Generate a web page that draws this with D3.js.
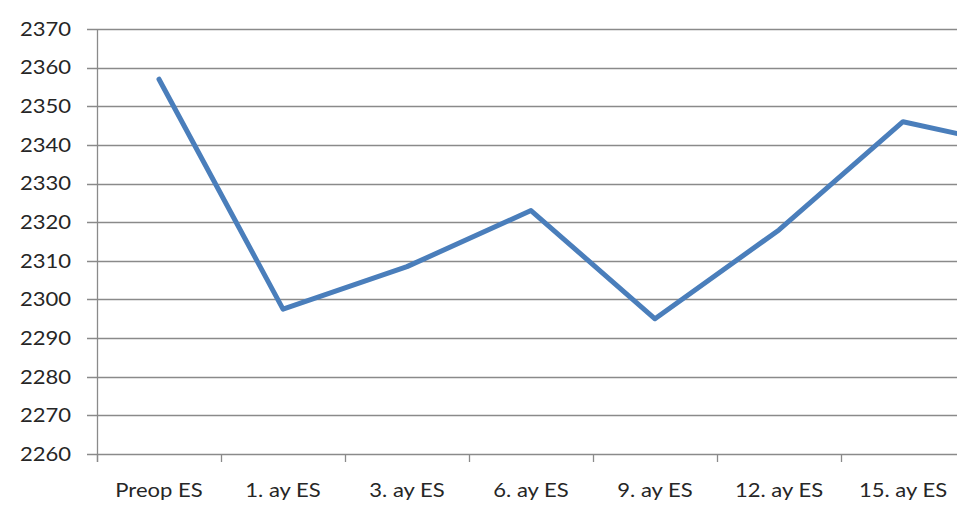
<!DOCTYPE html>
<html>
<head>
<meta charset="utf-8">
<script src="https://cdn.jsdelivr.net/npm/d3@7"></script>
<style>
  html, body { margin: 0; padding: 0; background: #fff; overflow: hidden; }
  svg { display: block; }
  text { font-family: Lato, "Open Sans", sans-serif; fill: #262626; }
</style>
</head>
<body>
<svg id="chart" width="957" height="510"></svg>
<script>
// Monthly ES values, preop and follow-up
const categories = ["Preop ES", "1. ay ES", "3. ay ES", "6. ay ES", "9. ay ES", "12. ay ES", "15. ay ES", "18. ay ES"];
const values = [2357, 2297.5, 2308.5, 2323, 2295, 2318, 2346, 2339];
const yTicks = [2260, 2270, 2280, 2290, 2300, 2310, 2320, 2330, 2340, 2350, 2360, 2370];

(function () {
  const svg = d3.select("#chart");
  const W = 957;
  const plotLeft = 97, plotTop = 29, plotBottom = 454;
  const step = 124;

  const x = d3.scaleBand()
    .domain(categories)
    .range([plotLeft, plotLeft + step * categories.length]);

  const y = d3.scaleLinear()
    .domain([2260, 2370])
    .range([plotBottom, plotTop]);

  // horizontal gridlines
  svg.append("g")
    .selectAll("line")
    .data(yTicks)
    .join("line")
    .attr("x1", plotLeft - 10)
    .attr("x2", W)
    .attr("y1", d => Math.round(y(d)) + 0.5)
    .attr("y2", d => Math.round(y(d)) + 0.5)
    .attr("stroke", "#8a8a8a")
    .attr("stroke-width", 1.3);

  // vertical axis line
  svg.append("line")
    .attr("x1", plotLeft + 0.5).attr("x2", plotLeft + 0.5)
    .attr("y1", plotTop).attr("y2", plotBottom + 8)
    .attr("stroke", "#8a8a8a").attr("stroke-width", 1.3);

  // category tick marks on the baseline
  const bounds = categories.map(c => x(c)).filter(v => v < W);
  svg.append("g")
    .selectAll("line")
    .data(bounds)
    .join("line")
    .attr("x1", d => Math.round(d) + 0.5)
    .attr("x2", d => Math.round(d) + 0.5)
    .attr("y1", plotBottom)
    .attr("y2", plotBottom + 8)
    .attr("stroke", "#8a8a8a")
    .attr("stroke-width", 1.3);

  // y labels
  svg.append("g")
    .selectAll("text")
    .data(yTicks)
    .join("text")
    .attr("transform", d => `translate(71,${y(d)}) scale(1.16,1)`)
    .attr("text-anchor", "end")
    .attr("dy", "0.36em")
    .attr("font-size", 19)
    .text(d => d);

  // x labels (only those whose band lies on the visible part of the axis)
  svg.append("g")
    .selectAll("text")
    .data(categories.filter(c => x(c) + x.bandwidth() <= W + 10))
    .join("text")
    .attr("transform", d => `translate(${x(d) + x.bandwidth() / 2},497) scale(1.16,1)`)
    .attr("text-anchor", "middle")
    .attr("font-size", 19)
    .text(d => d);

  // data line
  const line = d3.line()
    .x((d, i) => x(categories[i]) + x.bandwidth() / 2)
    .y(d => y(d));

  svg.append("path")
    .datum(values)
    .attr("d", line)
    .attr("fill", "none")
    .attr("stroke", "#4a7ebb")
    .attr("stroke-width", 5)
    .attr("stroke-linejoin", "round")
    .attr("stroke-linecap", "round");
})();
</script>
</body>
</html>
